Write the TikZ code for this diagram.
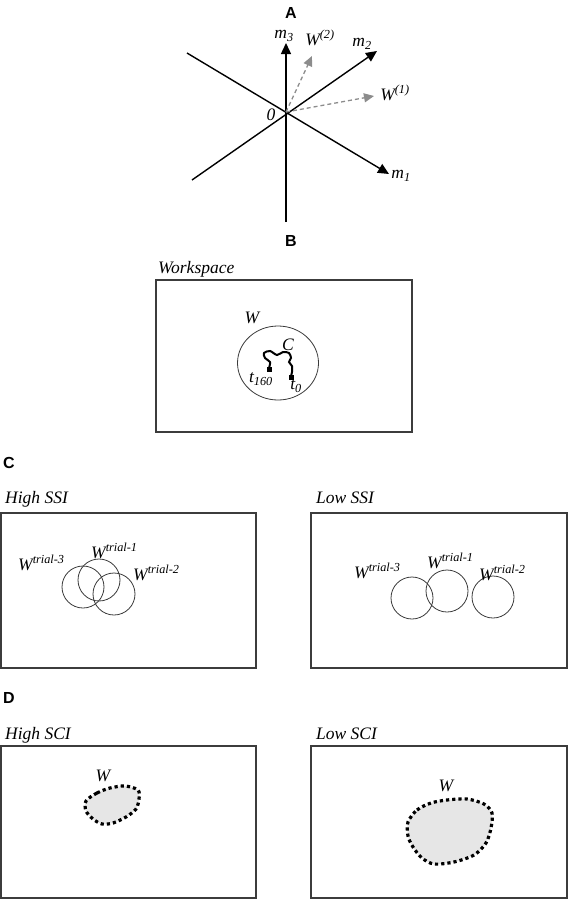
\documentclass[tikz,border=0pt]{standalone}
\usepackage{fontspec}
\setmainfont{Liberation Serif}
\newfontfamily\panelfont{Liberation Sans}
\usetikzlibrary{arrows.meta,positioning,calc}
\definecolor{framec}{HTML}{3C3C3C}
\definecolor{vecc}{HTML}{8C8C8C}
\definecolor{ringc}{HTML}{3A3A3A}
\definecolor{blobbg}{HTML}{E6E6E6}
\tikzset{
  axline/.style={line width=1.4pt,-{Triangle[length=11pt,width=10pt]}},
  wvec/.style={vecc,line width=1.3pt,dash pattern=on 4pt off 3pt,
    -{Triangle[length=10pt,width=9pt]}},
  frame/.style={draw=framec,line width=1.2pt},
  ring/.style={draw=ringc,line width=0.8pt},
  trace/.style={line width=2pt,line cap=round},
  endpt/.style={fill=black,inner sep=0pt,minimum size=5pt},
  blob/.style={fill=blobbg,line width=3.2pt,dash pattern=on 3.2pt off 3pt},
  lab/.style={font=\fontsize{17.5}{20}\selectfont\itshape,inner sep=0pt},
  panel/.style={font=\fontsize{16}{19}\selectfont\panelfont\bfseries,inner sep=0pt},
}
\newcommand{\wsup}[1]{W\textsuperscript{#1}}

\begin{document}
\begin{tikzpicture}[x=1pt,y=-1pt]
  \useasboundingbox (0,0) rectangle (568,900);

  % --- A: measure space ---
  \node[panel](pA) at (291,13) {A};
  \coordinate (O) at (286,112);
  \coordinate (m3s) at (286,222); \coordinate (m3e) at (286,43);
  \coordinate (m1s) at (187,53);  \coordinate (m1e) at (389,174);
  \coordinate (m2s) at (192,180); \coordinate (m2e) at (377,51);
  \coordinate (w1e) at (374,96);  \coordinate (w2e) at (312,56);
  \draw[axline](m3s)--(m3e);
  \draw[axline](m1s)--(m1e);
  \draw[axline](m2s)--(m2e);
  \draw[wvec](O)--(w2e);
  \draw[wvec](O)--(w1e);
  \node[lab](m3) at (284,36) {m\textsubscript{3}};
  \node[lab](m2) at (362,44) {m\textsubscript{2}};
  \node[lab](m1) at (401,176) {m\textsubscript{1}};
  \node[lab](zero) at (271,115) {0};
  \node[lab](w2) at (320,38) {\wsup{(2)}};
  \node[lab](w1) at (395,93) {\wsup{(1)}};

  % --- B: workspace ---
  \node[panel](pB) at (291,241) {B};
  \node[lab,anchor=base west](ws) at (158,273) {Workspace};
  \draw[frame] (156,280) rectangle (412,432);
  \draw[ring] (278,363) ellipse [x radius=40.5pt,y radius=37pt];
  \node[lab](wB) at (252,318) {W};
  \node[lab](cB) at (288,345) {C};
  \node[endpt](t160) at (269,369) {};
  \node[endpt](t0) at (291,377) {};
  \draw[trace] plot[smooth] coordinates {(269,368) (270,362) (265,358) (264,353)
    (270,351) (277,355) (283,352) (289,353) (291,358) (289,362) (292,366)
    (292,372) (291,376)};
  \node[lab](t160l) at (261,379) {t\textsubscript{160}};
  \node[lab](t0l) at (296,386) {t\textsubscript{0}};

  % --- C: spatial stability ---
  \node[panel](pC) at (9,463) {C};
  \node[lab,anchor=base west](hs) at (5,503) {High SSI};
  \node[lab,anchor=base west](ls) at (316,503) {Low SSI};
  \draw[frame] (1,513) rectangle (256,668);
  \draw[frame] (311,513) rectangle (567,668);
  \draw[ring] (83,587) circle [radius=21pt];
  \draw[ring] (99,580) circle [radius=21pt];
  \draw[ring] (114,594) circle [radius=21pt];
  \node[lab,anchor=base west](h3) at (18,570) {\wsup{trial-3}};
  \node[lab,anchor=base west](h1) at (91,558) {\wsup{trial-1}};
  \node[lab,anchor=base west](h2) at (133,580) {\wsup{trial-2}};
  \draw[ring] (412,598) circle [radius=21pt];
  \draw[ring] (447,591) circle [radius=21pt];
  \draw[ring] (493,597) circle [radius=21pt];
  \node[lab,anchor=base west](l3) at (354,578) {\wsup{trial-3}};
  \node[lab,anchor=base west](l1) at (427,568) {\wsup{trial-1}};
  \node[lab,anchor=base west](l2) at (479,580) {\wsup{trial-2}};

  % --- D: spatial compactness ---
  \node[panel](pD) at (9,698) {D};
  \node[lab,anchor=base west](hc) at (5,739) {High SCI};
  \node[lab,anchor=base west](lc) at (316,739) {Low SCI};
  \draw[frame] (1,746) rectangle (256,898);
  \draw[frame] (311,746) rectangle (567,898);
  \draw[blob] plot[smooth cycle] coordinates {(86,801) (97,793) (110,788)
    (125,786) (138,790) (139,799) (136,809) (126,817) (113,823) (102,824)
    (93,819) (86,811)};
  \node[lab](wh) at (103,776) {W};
  \draw[blob] plot[smooth cycle] coordinates {(408,822) (417,810) (431,803)
    (447,800) (467,799) (484,804) (492,813) (491,828) (486,843) (474,855)
    (454,862) (434,864) (422,858) (413,847) (408,836)};
  \node[lab](wl) at (446,786) {W};
\end{tikzpicture}
\end{document}
